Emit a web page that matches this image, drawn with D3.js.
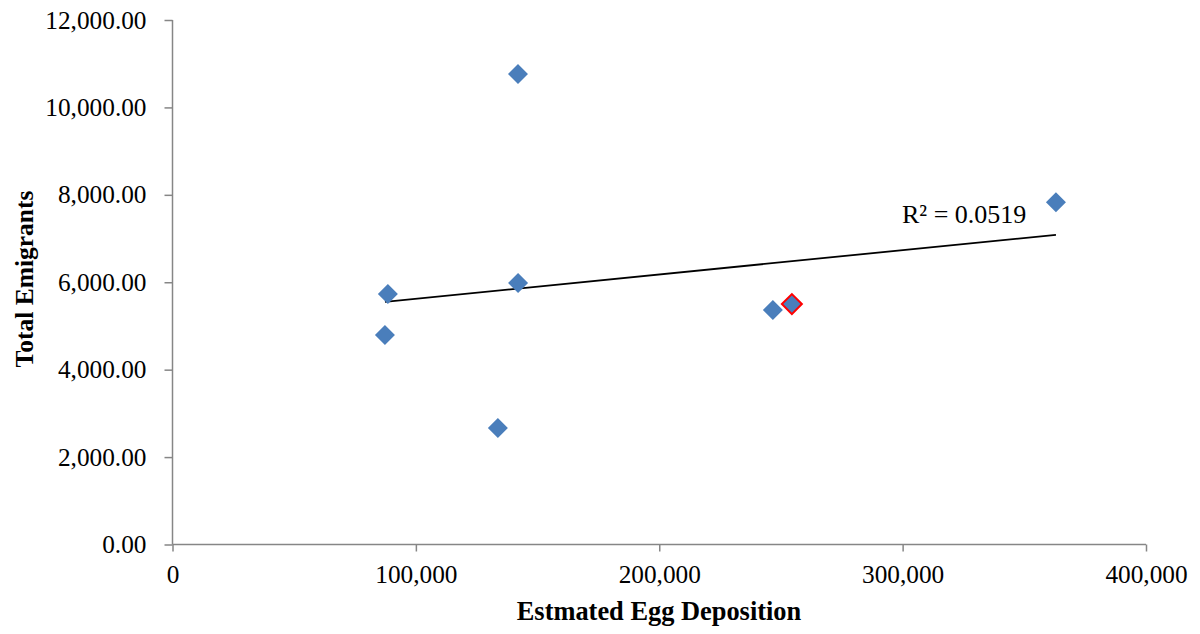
<!DOCTYPE html>
<html>
<head>
<meta charset="utf-8">
<script src="https://cdn.jsdelivr.net/npm/d3@7"></script>
<style>
  body { margin: 0; background: #fff; }
  svg { display: block; }
  text { font-family: "Liberation Serif", "Times New Roman", serif; fill: #000; }
</style>
</head>
<body>
<svg id="chart" width="1200" height="634"></svg>
<script>
// ---- data ----
const eggDeposition = [141950, 363000, 142000, 88500, 87300, 133700, 246700, 254500];
const totalEmigrants = [10765, 7830, 5985, 5730, 4795, 2665, 5365, 5500];
const highlighted = [false, false, false, false, false, false, false, true];
const xTicks = [0, 100000, 200000, 300000, 400000];
const yTicks = [0, 2000, 4000, 6000, 8000, 10000, 12000];
const xTitle = "Estmated Egg Deposition";
const yTitle = "Total Emigrants";
const r2Label = "R² = 0.0519";

const svg = d3.select("#chart");
const margin = { left: 172.5, right: 54, top: 20, bottom: 89.5 };
const W = 1200, H = 634;
const x = d3.scaleLinear().domain([0, 400000]).range([margin.left, W - margin.right]);
const y = d3.scaleLinear().domain([0, 12000]).range([H - margin.bottom, margin.top]);
const axisColor = "#868686";

// y axis
const gy = svg.append("g").attr("transform", `translate(${margin.left},0)`)
  .call(d3.axisLeft(y).tickValues(yTicks).tickFormat(d3.format(",.2f")).tickSize(8).tickPadding(18));
// x axis
const gx = svg.append("g").attr("transform", `translate(0,${y(0)})`)
  .call(d3.axisBottom(x).tickValues(xTicks).tickFormat(d3.format(",")).tickSize(7).tickPadding(14));
[gx, gy].forEach(g => {
  g.select(".domain").attr("stroke", axisColor).attr("stroke-width", 1.5);
  g.selectAll(".tick line").attr("stroke", axisColor).attr("stroke-width", 1.5);
  g.selectAll(".tick text").style("font-family", '"Liberation Serif", "Times New Roman", serif')
    .style("font-size", "25.3px").attr("fill", "#000");
});
gx.select(".domain").attr("d", `M${x(0)},0H${x(400000)}`);
gy.select(".domain").attr("d", `M0,${y(12000)}V${y(0)}`);

// regression
const pts = eggDeposition.map((v, i) => ({ x: v, y: totalEmigrants[i], hl: highlighted[i] }));
const mx = d3.mean(pts, d => d.x), my = d3.mean(pts, d => d.y);
const sxy = d3.sum(pts, d => (d.x - mx) * (d.y - my));
const sxx = d3.sum(pts, d => (d.x - mx) ** 2);
const slope = sxy / sxx, intercept = my - slope * mx;
const [xmin, xmax] = d3.extent(pts, d => d.x);
svg.append("line")
  .attr("x1", x(xmin)).attr("y1", y(intercept + slope * xmin))
  .attr("x2", x(xmax)).attr("y2", y(intercept + slope * xmax))
  .attr("stroke", "#000").attr("stroke-width", 1.8);

// points
const sym = d3.symbol().type(d3.symbolSquare).size(200);
svg.append("g").selectAll("path").data(pts).join("path")
  .attr("d", sym)
  .attr("transform", d => `translate(${x(d.x)},${y(d.y)}) rotate(45)`)
  .attr("fill", "#4a7ebb")
  .attr("stroke", d => d.hl ? "#ff0000" : "none")
  .attr("stroke-width", d => d.hl ? 2 : 0);

// R² label
svg.append("text").attr("x", 902).attr("y", 222.5)
  .style("font-size", "26px").text(r2Label);

// axis titles
svg.append("text").attr("x", 659).attr("y", 620)
  .attr("text-anchor", "middle").style("font-size", "26.4px").style("font-weight", "bold").text(xTitle);
svg.append("text").attr("transform", `translate(33,${279}) rotate(-90)`)
  .attr("text-anchor", "middle").style("font-size", "25.5px").style("font-weight", "bold").text(yTitle);
</script>
</body>
</html>
